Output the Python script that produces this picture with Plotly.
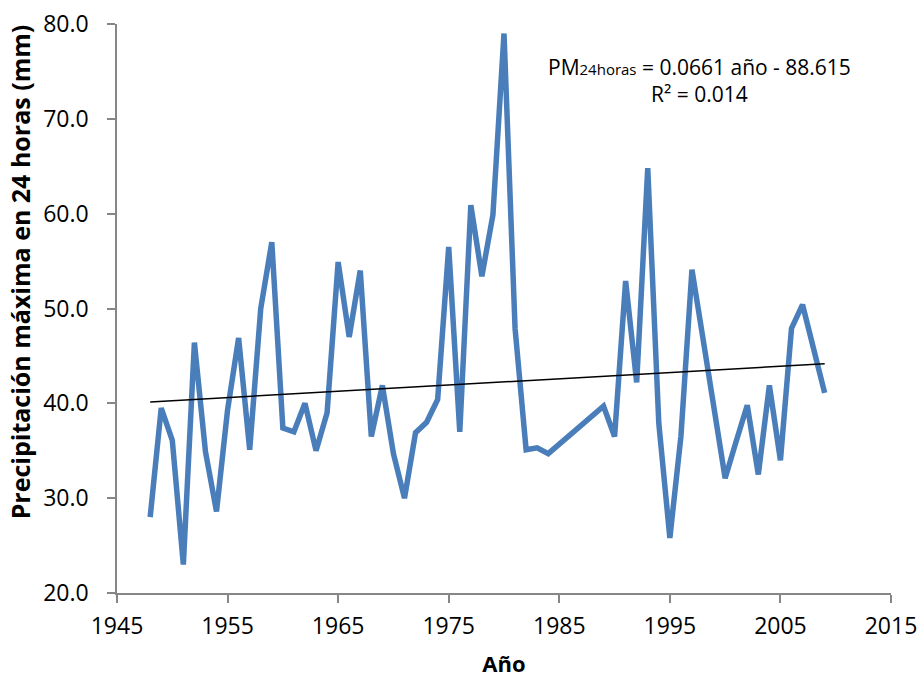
import plotly.graph_objects as go

years = [1948, 1949, 1950, 1951, 1952, 1953, 1954, 1955, 1956, 1957, 1958, 1959,
         1960, 1961, 1962, 1963, 1964, 1965, 1966, 1967, 1968, 1969, 1970, 1971,
         1972, 1973, 1974, 1975, 1976, 1977, 1978, 1979, 1980, 1981, 1982, 1983,
         1984, 1989, 1990, 1991, 1992, 1993, 1994, 1995, 1996, 1997, 1998, 1999,
         2000, 2001, 2002, 2003, 2004, 2005, 2006, 2007, 2008, 2009]
pm24 = [28.0, 39.5, 36.1, 23.0, 46.4, 34.9, 28.6, 39.3, 46.9, 35.1, 50.0, 57.0,
        37.4, 37.0, 40.0, 35.0, 39.0, 54.9, 47.0, 54.0, 36.5, 41.9, 34.7, 30.0,
        36.9, 38.0, 40.4, 56.5, 37.0, 60.9, 53.4, 59.9, 79.0, 47.9, 35.1, 35.3,
        34.7, 39.7, 36.5, 52.9, 42.2, 64.8, 37.9, 25.8, 36.5, 54.1, 46.8, 39.4,
        32.1, 36.0, 39.8, 32.5, 41.9, 34.0, 47.9, 50.4, 45.5, 41.1]

slope = 0.0661
intercept = -88.615
r2 = 0.014
trend_x = [years[0], years[-1]]
trend_y = [slope * x + intercept for x in trend_x]

x_ticks = [1945, 1955, 1965, 1975, 1985, 1995, 2005, 2015]
y_ticks = [20, 30, 40, 50, 60, 70, 80]

FONT = "Open Sans"

fig = go.Figure()
fig.add_trace(go.Scatter(x=years, y=pm24, mode="lines",
                         line=dict(color="#4A7EBB", width=5.5),
                         showlegend=False))
fig.add_trace(go.Scatter(x=trend_x, y=trend_y, mode="lines",
                         line=dict(color="black", width=1.5),
                         showlegend=False))

fig.add_annotation(x=0.753, y=0.9, xref="paper", yref="paper",
                   xanchor="center", yanchor="middle",
                   text=(f"PM<span style='font-size:15px'>24horas</span> = {slope} año - {abs(intercept)}"
                         f"<br>R² = {r2}"),
                   showarrow=False, align="center",
                   font=dict(family=FONT, size=21, color="black"))

# y-axis title (placed like the reference, slightly above the plot centre)
fig.add_annotation(x=-0.125, y=0.564, xref="paper", yref="paper",
                   xanchor="center", yanchor="middle", textangle=-90,
                   text="<b>Precipitación máxima en 24 horas (mm)</b>",
                   showarrow=False,
                   font=dict(family=FONT, size=25, color="black"))

axis_common = dict(showgrid=False, zeroline=False, showline=True, automargin=False,
                   linecolor="#868686", linewidth=1.5, ticks="outside",
                   tickcolor="#868686", ticklen=8, tickwidth=1.5,
                   tickfont=dict(family=FONT, size=23, color="black"))

fig.update_xaxes(range=[1945, 2015], tickvals=x_ticks, ticklabelstandoff=4,
                 title=dict(text="<b>Año</b>", font=dict(family=FONT, size=22, color="black"),
                            standoff=17),
                 **axis_common)
fig.update_yaxes(range=[20, 80], tickvals=y_ticks, tickformat=".1f", ticklabelstandoff=14,
                 **axis_common)

fig.update_layout(width=921, height=678, plot_bgcolor="white", paper_bgcolor="white",
                  margin=dict(l=117, r=30, t=24, b=85, autoexpand=False))

fig.write_html("out.html", config={"displayModeBar": False},
               post_script="document.body.style.margin='0';document.body.style.overflow='hidden';")
